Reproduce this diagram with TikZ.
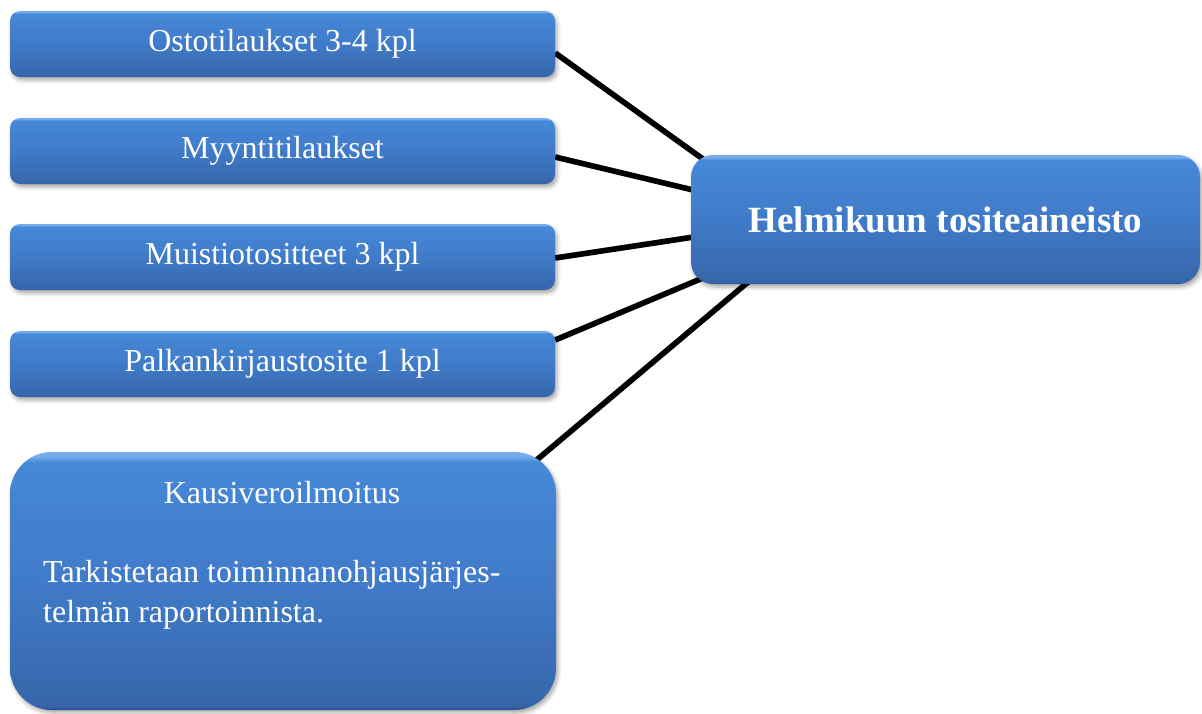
\documentclass[tikz,border=0pt]{standalone}
\usepackage{fontspec}
\setmainfont{Liberation Serif}
\usetikzlibrary{shadows.blur}

\pgfdeclarelayer{background}
\pgfsetlayers{background,main}

\definecolor{boxhi}{RGB}{118,172,236}
\definecolor{boxtop}{RGB}{70,136,216}
\definecolor{boxmid}{RGB}{64,123,201}
\definecolor{boxbot}{RGB}{54,102,170}
\definecolor{boxedge}{RGB}{40,78,135}

% glossy blue fill; the path covers the 25bp..75bp band of the shading
\pgfdeclareverticalshading{bluebox}{100bp}{%
  color(0bp)=(boxedge); color(25bp)=(boxedge); color(25.8bp)=(boxbot);
  color(50bp)=(boxmid); color(73bp)=(boxtop); color(74.2bp)=(boxhi);
  color(75bp)=(boxhi); color(100bp)=(boxhi)}

\tikzset{
  bluebase/.style={shade, shading=bluebox, draw=none, text=white,
    inner sep=0pt, align=center,
    blur shadow={shadow xshift=2pt, shadow yshift=-3pt,
      shadow blur radius=4pt, shadow opacity=35}},
  item/.style={bluebase, rounded corners=10pt, minimum width=545pt,
    minimum height=66pt, font=\fontsize{32}{37}\selectfont},
  mainbox/.style={bluebase, rounded corners=22pt, minimum width=509pt,
    minimum height=129pt, font=\fontsize{37}{42}\selectfont\bfseries},
  notebox/.style={bluebase, rounded corners=42pt, minimum width=546pt,
    minimum height=258pt},
  notetext/.style={text=white, inner sep=0pt, font=\fontsize{32}{37}\selectfont},
  conn/.style={line width=5.6pt, black},
  connshadow/.style={line width=5.6pt, black, opacity=0.18},
}

\begin{document}
\begin{tikzpicture}[x=1pt,y=-1pt]
\useasboundingbox (0,0) rectangle (1202,713);

% source documents
\node[item] (b1) at (282.5,44)  {Ostotilaukset 3-4 kpl};
\node[item] (b2) at (282.5,151) {Myyntitilaukset};
\node[item] (b3) at (282.5,257) {Muistiotositteet 3 kpl};
\node[item] (b4) at (282.5,364) {Palkankirjaustosite 1 kpl};

% tax return note
\node[notebox] (b5) at (283,581) {};
\node[notetext, anchor=base] (b5title) at (282,503) {Kausiveroilmoitus};
\node[notetext, anchor=base west] (b5line1) at (43,582) {Tarkistetaan toiminnanohjausjärjes-};
\node[notetext, anchor=base west] (b5line2) at (43,622) {telmän raportoinnista.};

% collection box
\node[mainbox] (hub) at (945.5,219.5) {Helmikuun tositeaineisto};

% connector ends hidden under the collection box
\coordinate (h1) at (760,200);
\coordinate (h2) at (760,206);
\coordinate (h3) at (760,227);
\coordinate (h4) at (760,254);
\coordinate (h5) at (760,272);
\coordinate (s5) at (520,474);

\begin{pgfonlayer}{background}
  \begin{scope}[shift={(2,3)}]
    \draw[connshadow] ([yshift=-9pt]b1.east) -- (h1);
    \draw[connshadow] ([yshift=-6pt]b2.east) -- (h2);
    \draw[connshadow] ([yshift=-1pt]b3.east) -- (h3);
    \draw[connshadow] ([yshift=24pt]b4.east) -- (h4);
    \draw[connshadow] (s5) -- (h5);
  \end{scope}
  \draw[conn] ([yshift=-9pt]b1.east) -- (h1);
  \draw[conn] ([yshift=-6pt]b2.east) -- (h2);
  \draw[conn] ([yshift=-1pt]b3.east) -- (h3);
  \draw[conn] ([yshift=24pt]b4.east) -- (h4);
  \draw[conn] (s5) -- (h5);
\end{pgfonlayer}
\end{tikzpicture}
\end{document}
